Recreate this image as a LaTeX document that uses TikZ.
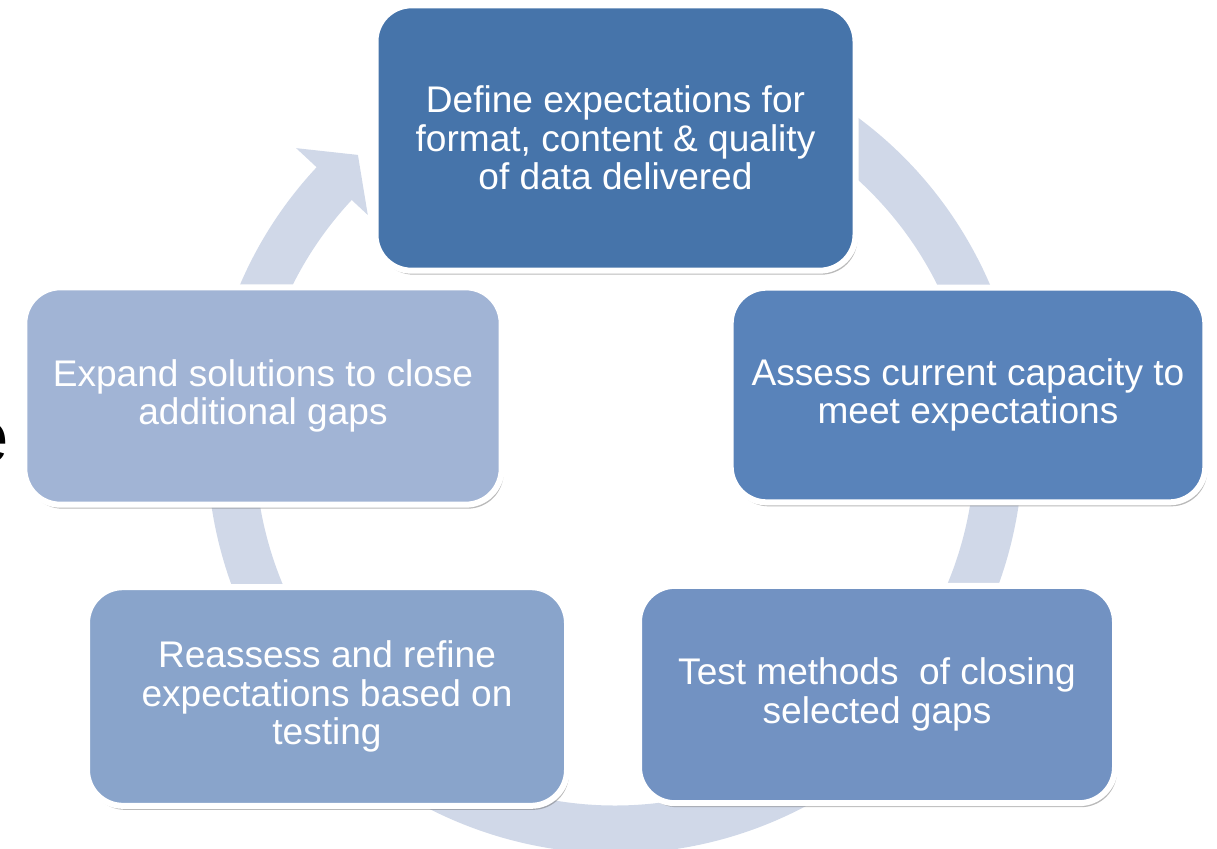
\documentclass[tikz,border=0pt]{standalone}
\usepackage{fontspec}
\setmainfont{Liberation Sans}
\usetikzlibrary{shadows}
\definecolor{ringc}{RGB}{208,216,232}
\definecolor{c1}{RGB}{70,116,170}
\definecolor{c2}{RGB}{89,131,186}
\definecolor{c3}{RGB}{114,146,194}
\definecolor{c4}{RGB}{137,164,203}
\definecolor{c5}{RGB}{161,180,213}
\begin{document}
\begin{tikzpicture}[x=0.75pt,y=0.75pt,
  box/.style={rectangle, rounded corners=27pt, draw=white, line width=4.5pt,
    text=white, align=center, inner sep=0pt,
    font=\fontsize{27.8}{29}\selectfont,
    drop shadow={shadow xshift=1.5pt, shadow yshift=-3pt, opacity=0.45, fill=black!60}},
  ring/.style={fill=ringc}
]
\useasboundingbox (0,0) rectangle (1217,-849);
% partial letter at the left edge
\node[anchor=base east, inner sep=0pt, text=black, font=\fontsize{56}{60}\selectfont] (letter) at (9,-462) {e};
% circular arrow
\begin{scope}[shift={(615,-445.5)}]
\fill[ring] (120:306pt) arc[start angle=120, end angle=-223, radius=306pt]
  -- (-223:327pt) -- (-228.5:291pt) -- (-223:253.5pt) -- (-223:270pt)
  arc[start angle=-223, end angle=120, radius=270pt] -- cycle;
\end{scope}
% boxes
\node[box, fill=c1, minimum width=360pt, minimum height=199pt] (define) at (615.5,-138)
  {Define expectations for\\format, content \& quality\\of data delivered};
\node[box, fill=c2, minimum width=356pt, minimum height=161pt] (assess) at (968,-395)
  {Assess current capacity to\\meet expectations};
\node[box, fill=c3, minimum width=357pt, minimum height=163pt] (test) at (877,-694.5)
  {Test methods\ \ of closing\\selected gaps};
\node[box, fill=c4, minimum width=360pt, minimum height=164pt] (reassess) at (327,-696.5)
  {Reassess and refine\\expectations based on\\testing};
\node[box, fill=c5, minimum width=358pt, minimum height=163pt] (expand) at (263,-396)
  {Expand solutions to close\\additional gaps};
\end{tikzpicture}
\end{document}
